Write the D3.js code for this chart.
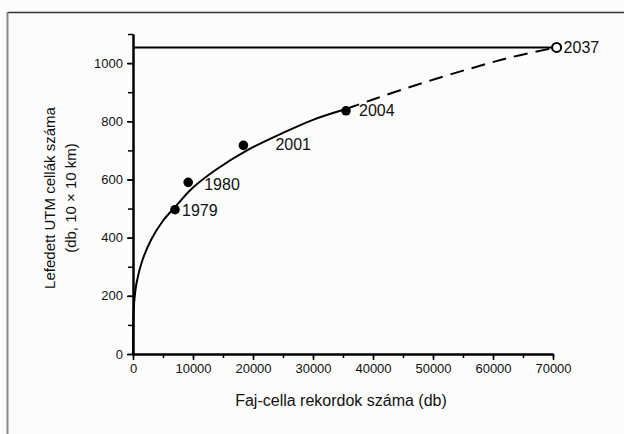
<!DOCTYPE html>
<html>
<head>
<meta charset="utf-8">
<script src="https://cdn.jsdelivr.net/npm/d3@7"></script>
<style>
  body { margin: 0; background: #fcfcfc; }
  svg { display: block; font-family: "Liberation Sans", Arial, sans-serif; }
</style>
</head>
<body>
<div id="chart"></div>
<script>
// observed points
const years = ["1979", "1980", "2001", "2004"]
const records = [7000, 9200, 18400, 35500]
const cells = [496, 590, 717, 836]

// fitted curve (solid part and dashed extrapolation)
const fitX = [0, 50, 200, 600, 1500, 3000, 5000, 7000, 10000, 14000, 19000, 25000, 30000, 35500]
const fitY = [0, 110, 180, 245, 318, 392, 458, 505, 572, 636, 700, 760, 805, 842]
const extX = [35500, 40000, 48000, 56000, 63000, 70600]
const extY = [842, 875, 930, 980, 1020, 1054]

// projected saturation
const targetYear = "2037"
const targetX = 70600
const targetY = 1054

const xTicks = [0, 10000, 20000, 30000, 40000, 50000, 60000, 70000]
const yTicks = [0, 200, 400, 600, 800, 1000]

class Chart {
  constructor() {
    this.width = 624
    this.height = 434
    this.margin = { top: 34, right: 71, bottom: 80, left: 133 }
    this.dataWidth = this.width - this.margin.left - this.margin.right
    this.dataHeight = this.height - this.margin.top - this.margin.bottom
  }

  render(elm) {
    let root = d3.select(elm).append("svg")
      .attr("width", this.width)
      .attr("height", this.height)

    // figure frame (top and left edges only show)
    root.append("line").attr("x1", 7.5).attr("x2", this.width).attr("y1", 12.5).attr("y2", 12.5)
      .attr("stroke", "#333").attr("stroke-width", 1.5)
    root.append("line").attr("x1", 7.5).attr("x2", 7.5).attr("y1", 12).attr("y2", this.height)
      .attr("stroke", "#888").attr("stroke-width", 2)

    let svg = root.append("g")
      .attr("transform", "translate(" + this.margin.left + "," + this.margin.top + ")")

    var x = d3.scaleLinear().domain([0, 70000]).range([0, this.dataWidth])
    var y = d3.scaleLinear().domain([0, 1100]).range([this.dataHeight, 0])

    // x axis: minor ticks every 5000, labels every 10000
    let gx = svg.append("g").attr("transform", "translate(0," + this.dataHeight + ")")
    gx.call(d3.axisBottom(x).tickValues(d3.range(0, 70001, 5000)).tickSize(4).tickSizeOuter(0).tickFormat(""))
    gx.append("g").call(d3.axisBottom(x).tickValues(xTicks).tickSize(6).tickSizeOuter(0).tickPadding(4).tickFormat(d3.format("d")))

    // y axis
    let gy = svg.append("g")
    gy.call(d3.axisLeft(y).tickValues(d3.range(0, 1101, 100)).tickSize(5).tickSizeOuter(0).tickFormat(""))
    gy.append("g").call(d3.axisLeft(y).tickValues(yTicks).tickSize(6).tickSizeOuter(0).tickPadding(4).tickFormat(d3.format("d")))

    svg.selectAll(".domain").attr("stroke", "#000").attr("stroke-width", 2)
    svg.selectAll(".tick line").attr("stroke", "#000").attr("stroke-width", 1.5)
    svg.selectAll(".tick text").attr("fill", "#111").attr("font-size", 13)

    // axis titles
    svg.append("text")
      .attr("x", this.dataWidth / 2 - 2).attr("y", this.dataHeight + 52)
      .attr("text-anchor", "middle").attr("font-size", 16).attr("fill", "#111")
      .text("Faj-cella rekordok száma (db)")

    let yt = svg.append("text")
      .attr("transform", "translate(" + (-78) + "," + (this.dataHeight / 2 + 4) + ") rotate(-90)")
      .attr("text-anchor", "middle").attr("font-size", 15).attr("fill", "#111")
    yt.append("tspan").attr("x", 0).attr("dy", 0).text("Lefedett UTM cellák száma")
    yt.append("tspan").attr("x", 0).attr("dy", 21).text("(db, 10 × 10 km)")

    let line = d3.line().x(d => x(d[0])).y(d => y(d[1])).curve(d3.curveCatmullRom.alpha(0.5))

    // saturation level
    svg.append("line")
      .attr("x1", x(0)).attr("x2", x(targetX))
      .attr("y1", y(targetY)).attr("y2", y(targetY))
      .attr("stroke", "#000").attr("stroke-width", 2)

    svg.append("path")
      .datum(d3.zip(fitX, fitY))
      .attr("fill", "none").attr("stroke", "#000").attr("stroke-width", 2)
      .attr("d", line)

    svg.append("path")
      .datum(d3.zip(extX, extY))
      .attr("fill", "none").attr("stroke", "#000").attr("stroke-width", 2)
      .attr("stroke-dasharray", "14,8")
      .attr("d", line)

    // observed points
    let labelDx = [7, 16, 32, 13]
    let labelDy = [6, 8, 5, 5]
    let pts = d3.zip(years, records, cells)
    svg.selectAll(".pt").data(pts).join("circle")
      .attr("cx", d => x(d[1])).attr("cy", d => y(d[2])).attr("r", 4.8)
      .attr("fill", "#000")
    svg.selectAll(".lbl").data(pts).join("text")
      .attr("x", (d, i) => x(d[1]) + labelDx[i])
      .attr("y", (d, i) => y(d[2]) + labelDy[i])
      .attr("font-size", 16).attr("fill", "#111")
      .text(d => d[0])

    svg.append("circle")
      .attr("cx", x(targetX)).attr("cy", y(targetY)).attr("r", 4.5)
      .attr("fill", "#fff").attr("stroke", "#000").attr("stroke-width", 2)
    svg.append("text")
      .attr("x", x(targetX) + 7).attr("y", y(targetY) + 6)
      .attr("font-size", 16).attr("fill", "#111")
      .text(targetYear)
  }
}

new Chart().render("#chart")
</script>
</body>
</html>
